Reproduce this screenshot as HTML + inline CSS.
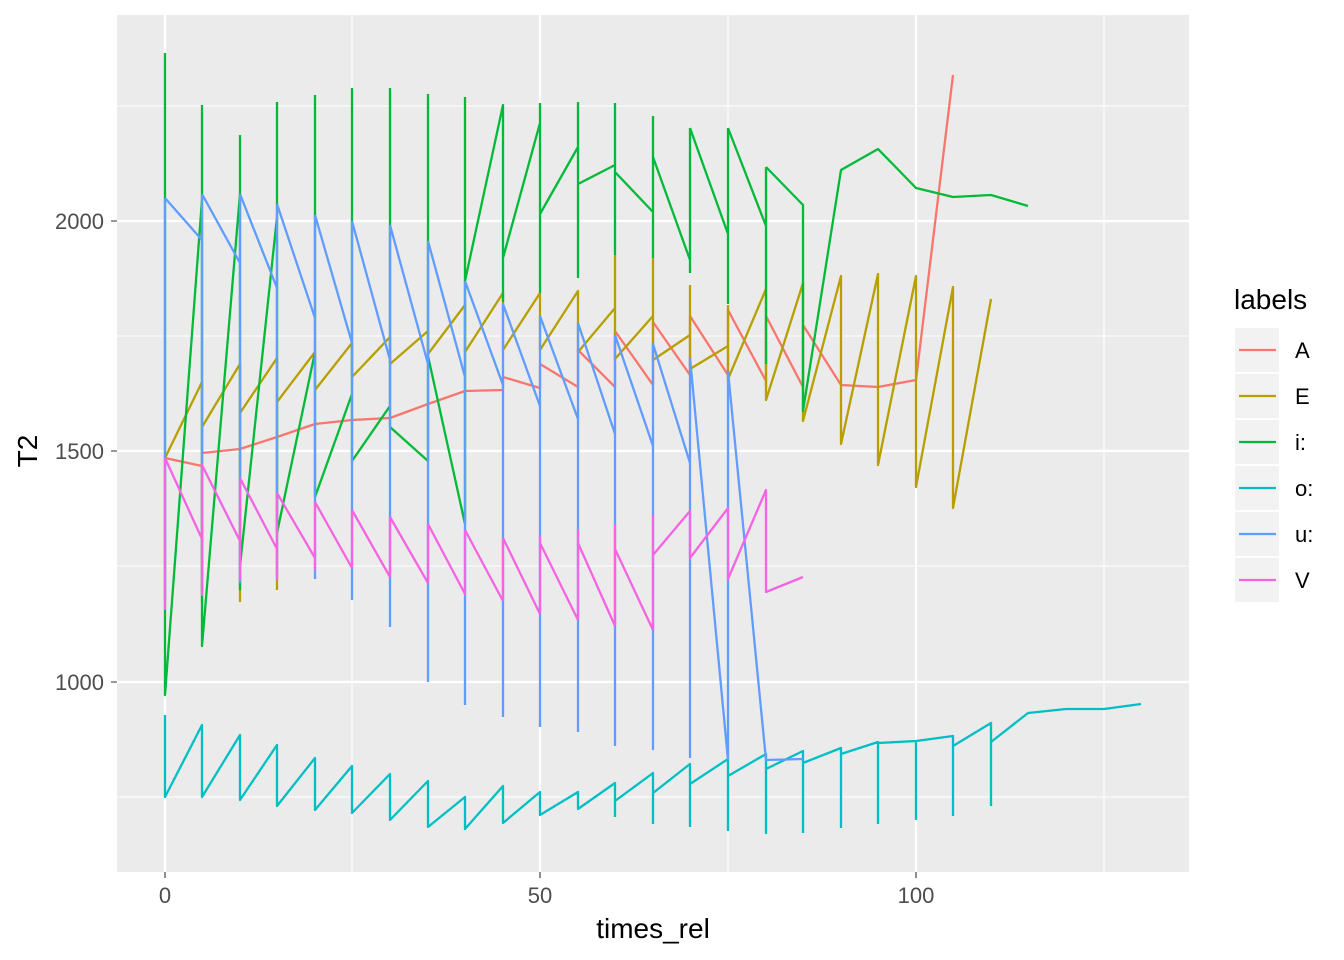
<!DOCTYPE html>
<html><head><meta charset="utf-8"><style>
html,body{margin:0;padding:0;background:#fff;}
svg{display:block;font-family:"Liberation Sans",sans-serif;}
</style></head><body>
<svg width="1344" height="960" viewBox="0 0 1344 960" xmlns="http://www.w3.org/2000/svg">
<rect x="0" y="0" width="1344" height="960" fill="#fff"/>
<rect x="117" y="15" width="1072" height="857" fill="#EBEBEB"/>
<g stroke="#fff" stroke-width="1.1" fill="none">
<path d="M117 106H1189M117 336H1189M117 566H1189M117 797H1189M352 15V872M728 15V872M1104 15V872"/>
</g>
<g stroke="#fff" stroke-width="2.2" fill="none">
<path d="M117 221H1189M117 451H1189M117 682H1189M165 15V872M540 15V872M916 15V872"/>
</g>
<g fill="none" stroke-width="2.3" stroke-linejoin="round">
<path stroke="#F8766D" d="M165 458L202 466M202 453L240 449L277 437L315 424L352 420L390 418L428 404L465 391L503 390M503 377L540 388M540 364L578 387M578 350L615 387M615 331L653 385M653 322L690 375M690 316L728 375M728 310L766 381M766 316L803 387M803 325L841 385L878 387L916 380L953 75M503 377V390M540 364V388M578 350V387M615 331V387M653 322V385M690 316V375M728 310V381M766 316V387M803 325V387"/>
<path stroke="#B79F00" d="M165 458L202 382V602M202 427L240 364M240 364V602M240 413L277 358M277 358V590M277 402L315 352V390L352 343V377L390 337V364L428 331V354L465 305V352L503 293V350L540 293V350L578 291V352L615 308M615 255V359L653 316M653 257V360L690 335M690 285V369L728 346M728 305V379L766 289V400L803 283V421L841 276V444L878 274V465L916 276V487L953 287V508L991 299"/>
<path stroke="#00BA38" d="M165 53V695L202 200M202 105V646L240 194M240 135V590M240 566L277 217M277 102V533L315 352M315 95V497L352 394M352 88V461L390 406M390 88V427L428 461M428 94V461M428 356L465 524M465 97V524M465 281L503 105V302M503 258L540 123M540 103V293M540 214L578 147M578 102V278M578 184L615 165M615 103V255M615 172L653 212M653 116V258M653 157L690 260M690 128V273M690 128L728 234M728 128V304M728 128L766 226M766 167V364M766 167L803 205V411L841 170L878 149L916 188L953 197L991 195L1028 206"/>
<path stroke="#00BFC4" d="M165 715V797L202 725V797L240 735V800L277 745V806L315 758V810L352 766V813L390 774V820L428 781V827L465 797V829L503 786V823L540 792V815L578 792V809L615 783V817M615 801L653 773V824M653 793L690 764V827M690 784L728 759V831M728 776L766 754V834M766 769L803 751V833M803 763L841 748V828M841 754L878 742V824M878 743L916 741V820M916 741L953 736V816M953 746L991 723V806M991 742L1028 713L1066 709L1104 709L1141 704"/>
<path stroke="#619CFF" d="M165 198V600M165 198L202 240M202 194V592M202 194L240 263M240 194V583M240 194L277 288M277 204V579M277 204L315 318M315 215V579M315 215L352 343M352 221V600M352 221L390 360M390 225V627M390 225L428 364M428 241V682M428 241L465 377M465 281V705M465 281L503 385M503 304V717M503 304L540 406M540 316V727M540 316L578 419M578 323V732M578 323L615 434M615 335V746M615 335L653 446M653 344V750M653 344L690 463M690 358V758M690 358L728 760M728 371V760M728 371L766 760L803 759"/>
<path stroke="#F564E3" d="M165 458V610M165 458L202 539M202 463V596M202 465L240 541M240 478V580M240 478L277 549M277 493V580M277 493L315 558M315 502V570M315 502L352 568M352 510V568M352 510L390 577M390 517V577M390 517L428 583M428 524V583M428 524L465 594M465 530V595M465 530L503 601M503 538V601M503 538L540 614M540 536V614M540 543L578 620M578 529V620M578 543L615 626M615 524V626M615 549L653 630M653 515V630M653 555L690 511V558L728 508V579L766 490V592L803 577"/>
</g>
<g stroke="#333" stroke-width="1.1">
<path d="M111 221H117M111 451H117M111 682H117M165 872V878M540 872V878M916 872V878"/>
</g>
<g fill="#4D4D4D" font-size="22">
<text x="104" y="229" text-anchor="end">2000</text>
<text x="104" y="459" text-anchor="end">1500</text>
<text x="104" y="690" text-anchor="end">1000</text>
<text x="165" y="903" text-anchor="middle">0</text>
<text x="540" y="903" text-anchor="middle">50</text>
<text x="916" y="903" text-anchor="middle">100</text>
</g>
<text x="653" y="938" text-anchor="middle" font-size="28" fill="#000">times_rel</text>
<text transform="translate(37,451) rotate(-90)" text-anchor="middle" font-size="28" fill="#000">T2</text>
<text x="1234" y="309" font-size="28" fill="#000">labels</text>
<g>
<rect x="1235" y="328" width="44" height="44" fill="#F2F2F2"/>
<rect x="1235" y="374" width="44" height="44" fill="#F2F2F2"/>
<rect x="1235" y="420" width="44" height="44" fill="#F2F2F2"/>
<rect x="1235" y="466" width="44" height="44" fill="#F2F2F2"/>
<rect x="1235" y="512" width="44" height="44" fill="#F2F2F2"/>
<rect x="1235" y="558" width="44" height="44" fill="#F2F2F2"/>
</g>
<g stroke-width="2.3">
<path stroke="#F8766D" d="M1239 350H1276"/>
<path stroke="#B79F00" d="M1239 396H1276"/>
<path stroke="#00BA38" d="M1239 442H1276"/>
<path stroke="#00BFC4" d="M1239 488H1276"/>
<path stroke="#619CFF" d="M1239 534H1276"/>
<path stroke="#F564E3" d="M1239 580H1276"/>
</g>
<g font-size="22" fill="#000">
<text x="1295" y="358">A</text>
<text x="1295" y="404">E</text>
<text x="1295" y="450">i:</text>
<text x="1295" y="496">o:</text>
<text x="1295" y="542">u:</text>
<text x="1295" y="588">V</text>
</g>
</svg>
</body></html>
